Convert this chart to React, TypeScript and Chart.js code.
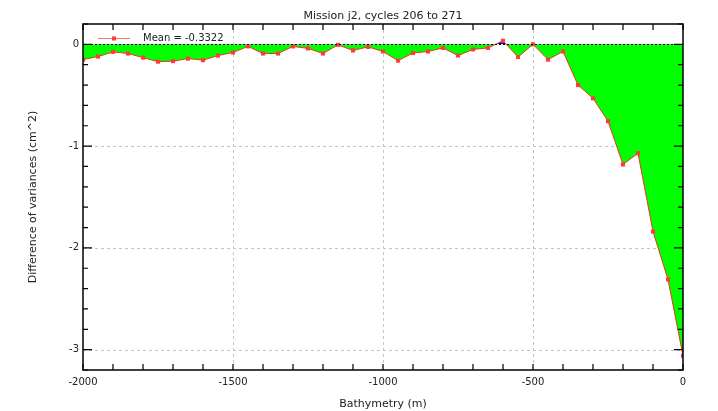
import React, { useEffect, useRef } from "react";
import { Chart, registerables } from "chart.js";

Chart.register(...registerables);

const titleText = "Mission j2, cycles 206 to 271";
const xTitle = "Bathymetry (m)";
const yTitle = "Difference of variances (cm^2)";
const legendText = "Mean = -0.3322";

const depths = [
  -2000, -1950, -1900, -1850, -1800, -1750, -1700, -1650, -1600, -1550,
  -1500, -1450, -1400, -1350, -1300, -1250, -1200, -1150, -1100, -1050,
  -1000, -950, -900, -850, -800, -750, -700, -650, -600, -550,
  -500, -450, -400, -350, -300, -250, -200, -150, -100, -50, 0,
];
const diffs = [
  -0.15, -0.12, -0.074, -0.09, -0.13, -0.17, -0.165, -0.14, -0.155, -0.11,
  -0.08, -0.02, -0.09, -0.09, -0.02, -0.04, -0.09, -0.005, -0.06, -0.025,
  -0.07, -0.16, -0.085, -0.07, -0.035, -0.11, -0.05, -0.035, 0.035, -0.125,
  0.0, -0.15, -0.07, -0.4, -0.53, -0.755, -1.18, -1.07, -1.84, -2.31, -3.06,
];

const xTickLabels = [-2000, -1500, -1000, -500, 0];
const yTickLabels = [-3, -2, -1, 0];
const xGridLines = [-1500, -1000, -500];
const yGridLines = [-3, -2, -1];
const xMinorTicks = [
  -2000, -1900, -1800, -1700, -1600, -1500, -1400, -1300, -1200, -1100,
  -1000, -900, -800, -700, -600, -500, -400, -300, -200, -100, 0,
];
const yMinorTicks = [
  -3.2, -3.0, -2.8, -2.6, -2.4, -2.2, -2.0, -1.8, -1.6, -1.4, -1.2, -1.0,
  -0.8, -0.6, -0.4, -0.2, 0.0, 0.2,
];

const FONT = "'DejaVu Sans', sans-serif";
const TEXT = "#222";

const decorPlugin = {
  id: "decor",
  beforeDatasetsDraw(chart: any) {
    const { ctx, chartArea: a, scales } = chart;
    const x = scales.x;
    const y = scales.y;
    ctx.save();
    ctx.strokeStyle = "#c4c4c4";
    ctx.lineWidth = 1;
    ctx.setLineDash([3, 3]);
    for (const v of xGridLines) {
      const px = Math.round(x.getPixelForValue(v)) + 0.5;
      ctx.beginPath();
      ctx.moveTo(px, a.top);
      ctx.lineTo(px, a.bottom);
      ctx.stroke();
    }
    for (const v of yGridLines) {
      const py = Math.round(y.getPixelForValue(v)) + 0.5;
      ctx.beginPath();
      ctx.moveTo(a.left, py);
      ctx.lineTo(a.right, py);
      ctx.stroke();
    }
    ctx.restore();
  },
  afterDatasetsDraw(chart: any) {
    const { ctx, chartArea: a, scales } = chart;
    const x = scales.x;
    const y = scales.y;
    ctx.save();
    // zero line
    ctx.strokeStyle = "#000";
    ctx.lineWidth = 1;
    ctx.setLineDash([2, 2]);
    const zy = Math.round(y.getPixelForValue(0)) + 0.5;
    ctx.beginPath();
    ctx.moveTo(a.left, zy);
    ctx.lineTo(a.right, zy);
    ctx.stroke();
    ctx.setLineDash([]);

    // frame
    ctx.lineWidth = 1.5;
    ctx.strokeStyle = "#000";
    ctx.strokeRect(a.left, a.top, a.right - a.left, a.bottom - a.top);

    // ticks
    ctx.lineWidth = 1.2;
    for (const v of xMinorTicks) {
      const px = x.getPixelForValue(v);
      ctx.beginPath();
      ctx.moveTo(px, a.bottom);
      ctx.lineTo(px, a.bottom - 6);
      ctx.moveTo(px, a.top);
      ctx.lineTo(px, a.top + 6);
      ctx.stroke();
    }
    for (const v of yMinorTicks) {
      const py = y.getPixelForValue(v);
      const major = Math.abs(v - Math.round(v)) < 1e-6;
      const len = major ? 9 : 5;
      ctx.beginPath();
      ctx.moveTo(a.left, py);
      ctx.lineTo(a.left + len, py);
      ctx.moveTo(a.right, py);
      ctx.lineTo(a.right - len, py);
      ctx.stroke();
    }

    // legend
    const ly = a.top + 14;
    ctx.strokeStyle = "#ff7070";
    ctx.lineWidth = 1;
    ctx.beginPath();
    ctx.moveTo(a.left + 15, ly + 0.5);
    ctx.lineTo(a.left + 47, ly + 0.5);
    ctx.stroke();
    ctx.fillStyle = "#ff3a3a";
    ctx.fillRect(a.left + 29, ly - 1.5, 4, 4);
    ctx.fillStyle = TEXT;
    ctx.font = `10px ${FONT}`;
    ctx.textAlign = "left";
    ctx.textBaseline = "middle";
    ctx.fillText(legendText, a.left + 60, ly);

    // titles
    const cx = (a.left + a.right) / 2;
    ctx.font = `11px ${FONT}`;
    ctx.textAlign = "center";
    ctx.textBaseline = "middle";
    ctx.fillText(titleText, cx, 16);
    ctx.fillText(xTitle, cx, 404);
    ctx.translate(33, (a.top + a.bottom) / 2);
    ctx.rotate(-Math.PI / 2);
    ctx.fillText(yTitle, 0, 0);
    ctx.restore();
  },
};

export default function App() {
  const ref = useRef<HTMLCanvasElement | null>(null);
  useEffect(() => {
    if (!ref.current) return;
    const chart = new Chart(ref.current, {
      type: "line",
      data: {
        datasets: [
          {
            data: depths.map((d, i) => ({ x: d, y: diffs[i] })),
            borderColor: "#ee3322",
            borderWidth: 1,
            pointStyle: "rect",
            pointRadius: 2.9,
            pointBackgroundColor: "#ff3a3a",
            pointBorderColor: "#ff3a3a",
            pointBorderWidth: 0,
            tension: 0,
            clip: 0,
            fill: { target: { value: 0 }, above: "#0000ff", below: "#00ff00" },
          } as any,
        ],
      },
      options: {
        animation: false,
        responsive: false,
        maintainAspectRatio: false,
        layout: { padding: { top: 24, right: 35, left: 0, bottom: 0 } },
        plugins: {
          legend: { display: false },
          title: { display: false },
          tooltip: { enabled: false },
        },
        scales: {
          x: {
            type: "linear",
            min: -2000,
            max: 0,
            afterBuildTicks: (s: any) => {
              s.ticks = xTickLabels.map((v) => ({ value: v }));
            },
            afterFit: (s: any) => {
              s.height = 41;
            },
            ticks: {
              font: { family: FONT, size: 10 },
              color: TEXT,
              padding: 6,
              maxRotation: 0,
              callback: (v: any) => String(v),
            },
            grid: { display: false, drawTicks: false },
            border: { display: false },
          },
          y: {
            type: "linear",
            min: -3.2,
            max: 0.2,
            afterBuildTicks: (s: any) => {
              s.ticks = yTickLabels.map((v) => ({ value: v }));
            },
            afterFit: (s: any) => {
              s.width = 83;
            },
            ticks: {
              font: { family: FONT, size: 10 },
              color: TEXT,
              padding: 4,
              callback: (v: any) => String(v),
            },
            grid: { display: false, drawTicks: false },
            border: { display: false },
          },
        },
      } as any,
      plugins: [decorPlugin],
    });
    return () => chart.destroy();
  }, []);
  return (
    <div style={{ position: "absolute", left: 0, top: 0, width: 718, height: 411, background: "#fff" }}>
      <canvas ref={ref} width={718} height={411} />
    </div>
  );
}
